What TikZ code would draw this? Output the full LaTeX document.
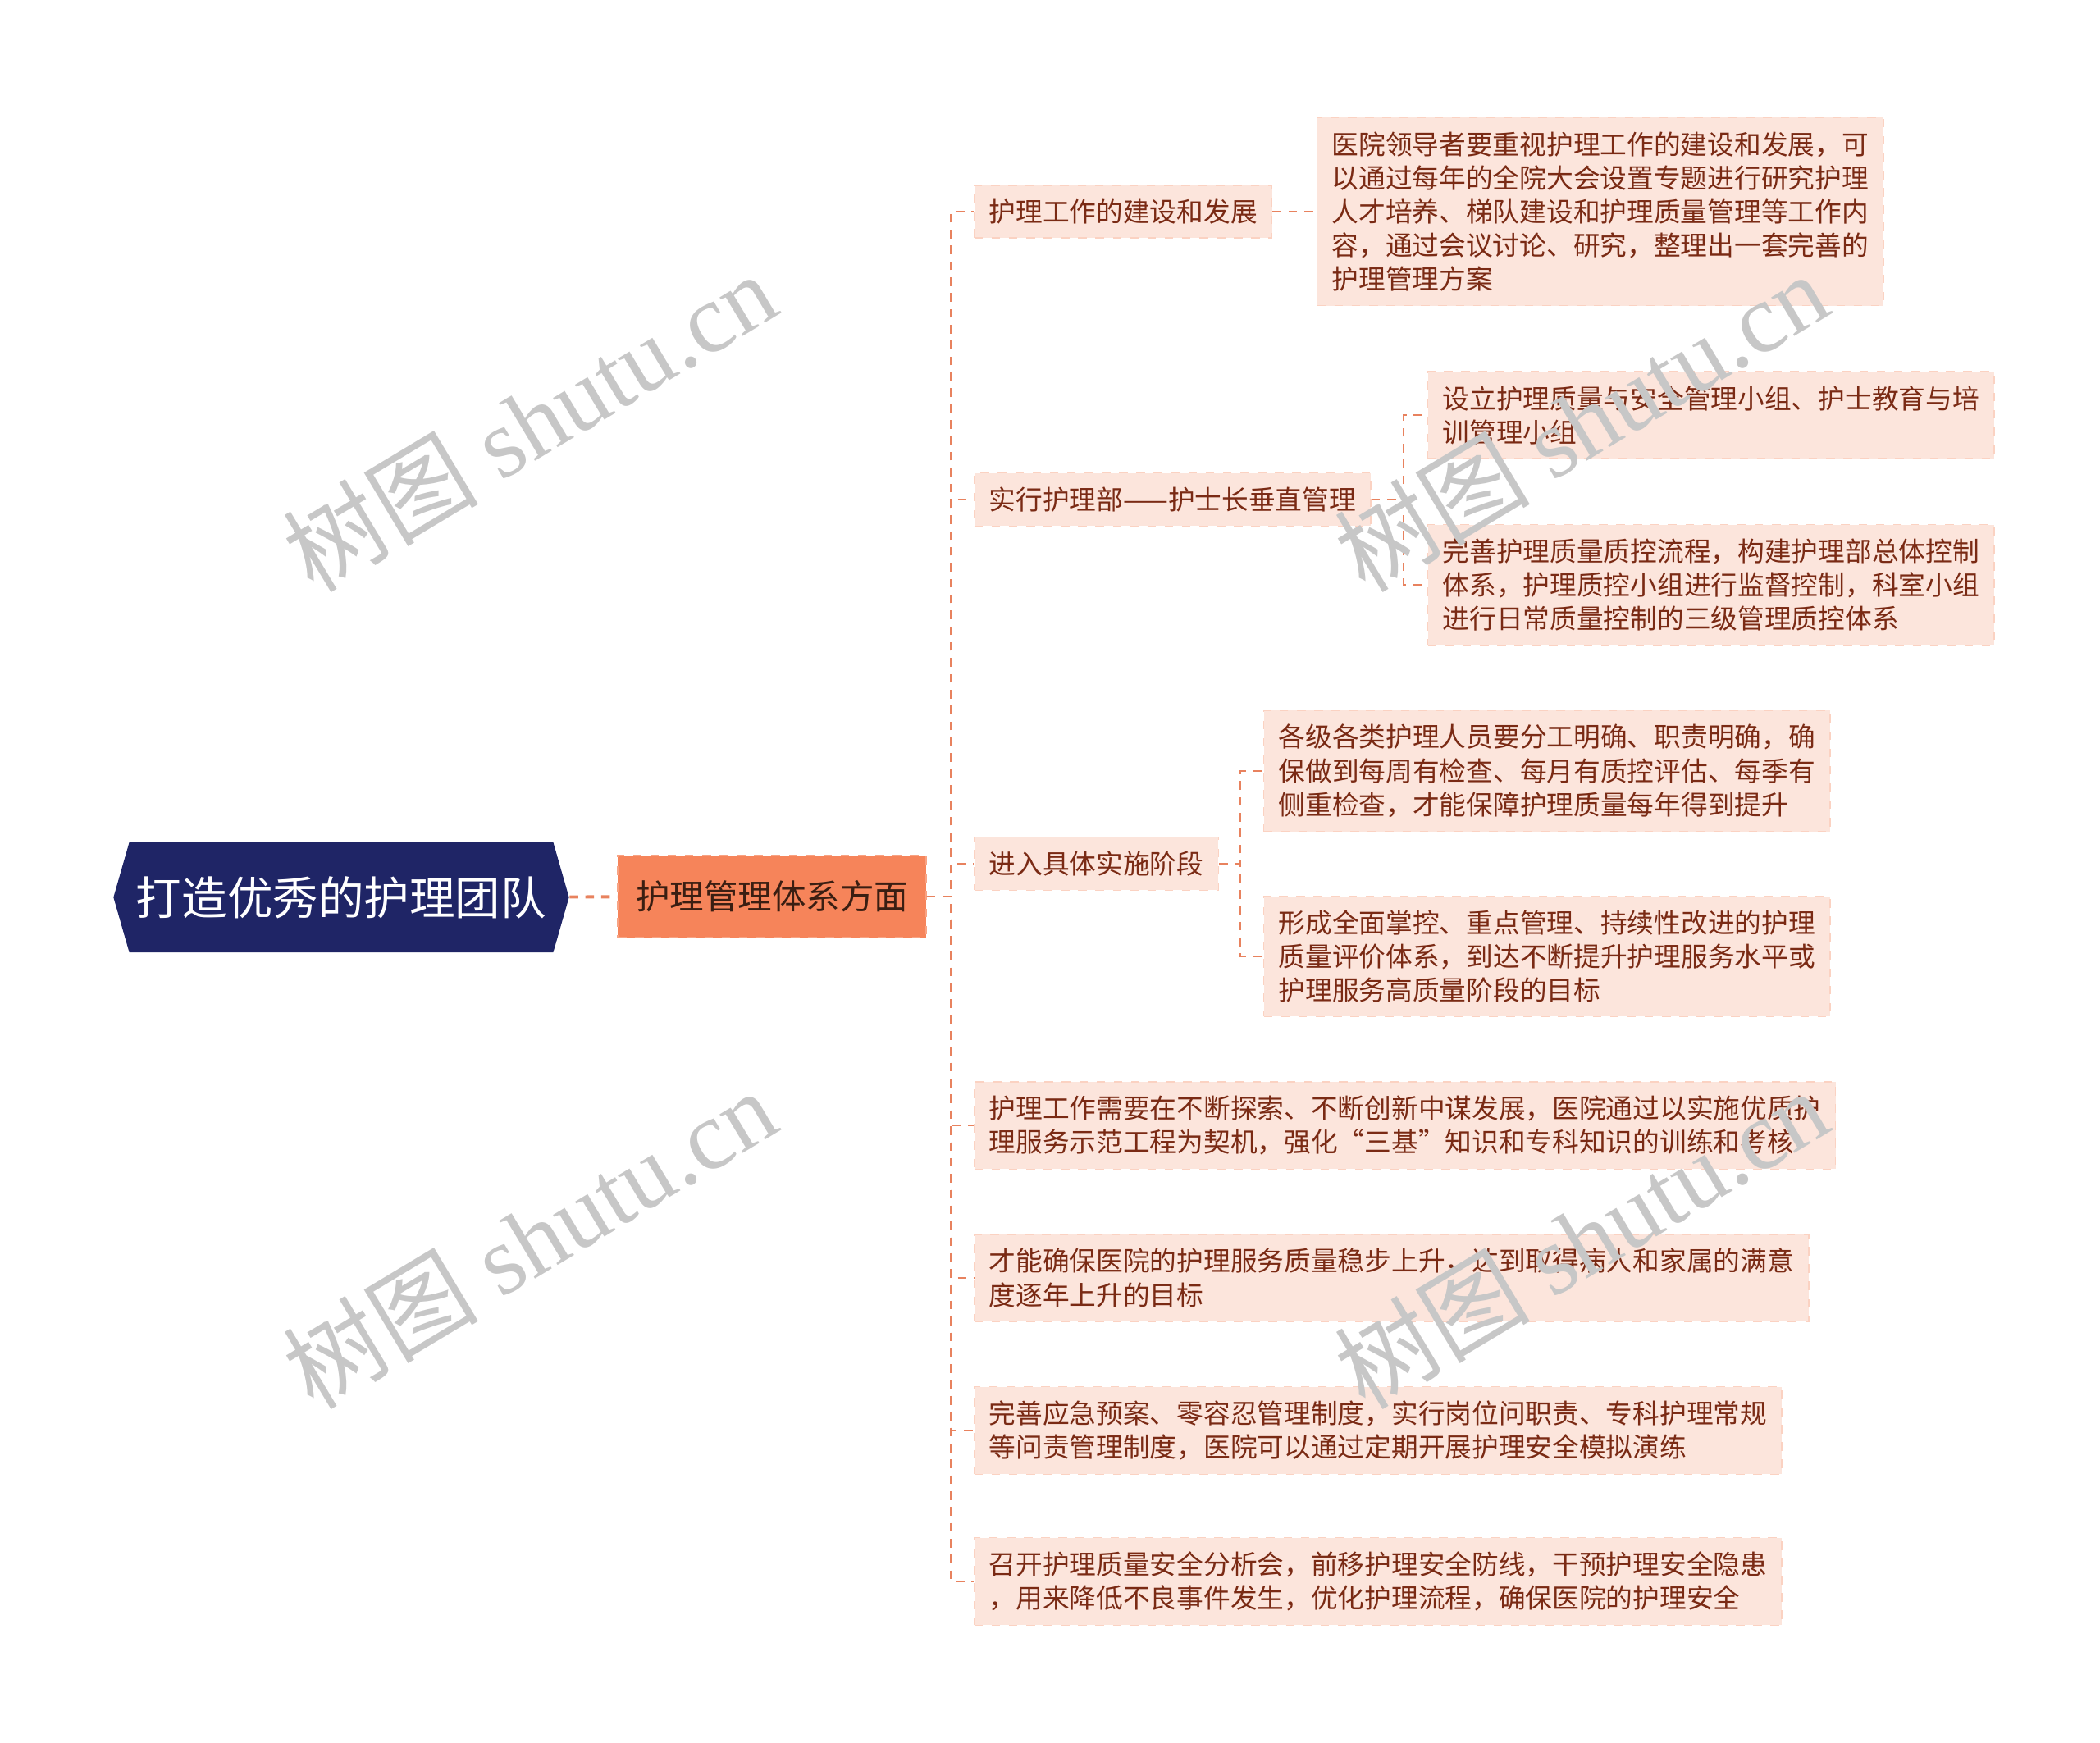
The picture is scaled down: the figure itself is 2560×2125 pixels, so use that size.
\documentclass[tikz,border=0pt]{standalone}
\usepackage{fontspec}
\setmainfont{Noto Sans CJK SC}
\newfontfamily\wmfont{Liberation Serif}
\usetikzlibrary{positioning,shapes.symbols}

\definecolor{navy}{HTML}{1F2566}
\definecolor{coral}{HTML}{F6845A}
\definecolor{peach}{HTML}{FCE5DC}
\definecolor{rust}{HTML}{7A2A14}
\definecolor{topictext}{HTML}{3A1E12}
\definecolor{linkc}{HTML}{E8825E}

\begin{document}
\begin{tikzpicture}[
    x=0.01cm, y=-0.01cm,
    root/.style={signal,signal to=east and west,signal pointer angle=148,
      fill=navy,text=white,minimum width=5.55cm,minimum height=1.34cm,
      inner sep=0pt,font=\fontsize{15.8pt}{19pt}\selectfont},
    topic/.style={rectangle,fill=coral,draw=coral!75!white,dashed,
      text=topictext,inner xsep=0.22cm,minimum height=1.0cm,
      font=\fontsize{11.8pt}{14pt}\selectfont},
    leaf/.style={rectangle,fill=peach,draw=peach!80!coral,dashed,
      text=rust,align=left,anchor=west,inner xsep=0.18cm,inner ysep=0.17cm,
      font=\fontsize{9.3pt}{11.7pt}\selectfont},
    link/.style={draw=linkc,line width=0.7pt,dash pattern=on 3pt off 2.5pt},
    watermark/.style={rotate=31,text=black!22,
      font=\fontsize{34pt}{34pt}\selectfont}
    ]

    \useasboundingbox (0,0) rectangle (2560,2125);

    % root and main branch:
    \node (root) at (416,1094) [root] {打造优秀的护理团队};
    \node (main) at (941,1093) [topic] {护理管理体系方面};

    % second level:
    \node (s1) at (1187,258) [leaf] {护理工作的建设和发展};
    \node (s2) at (1187,609) [leaf] {实行护理部——护士长垂直管理};
    \node (s3) at (1187,1053) [leaf] {进入具体实施阶段};
    \node (s4) at (1187,1372) [leaf] {护理工作需要在不断探索、不断创新中谋发展，医院通过以实施优质护\\理服务示范工程为契机，强化“三基”知识和专科知识的训练和考核};
    \node (s5) at (1187,1558) [leaf] {才能确保医院的护理服务质量稳步上升，达到取得病人和家属的满意\\度逐年上升的目标};
    \node (s6) at (1187,1744) [leaf] {完善应急预案、零容忍管理制度，实行岗位问职责、专科护理常规\\等问责管理制度，医院可以通过定期开展护理安全模拟演练};
    \node (s7) at (1187,1928) [leaf] {召开护理质量安全分析会，前移护理安全防线，干预护理安全隐患\\，用来降低不良事件发生，优化护理流程，确保医院的护理安全};

    % third level:
    \node (t1) at (1605,258) [leaf] {医院领导者要重视护理工作的建设和发展，可\\以通过每年的全院大会设置专题进行研究护理\\人才培养、梯队建设和护理质量管理等工作内\\容，通过会议讨论、研究，整理出一套完善的\\护理管理方案};
    \node (t2) at (1740,506) [leaf] {设立护理质量与安全管理小组、护士教育与培\\训管理小组};
    \node (t3) at (1740,713) [leaf] {完善护理质量质控流程，构建护理部总体控制\\体系，护理质控小组进行监督控制，科室小组\\进行日常质量控制的三级管理质控体系};
    \node (t4) at (1540,940) [leaf] {各级各类护理人员要分工明确、职责明确，确\\保做到每周有检查、每月有质控评估、每季有\\侧重检查，才能保障护理质量每年得到提升};
    \node (t5) at (1540,1166) [leaf] {形成全面掌控、重点管理、持续性改进的护理\\质量评价体系，到达不断提升护理服务水平或\\护理服务高质量阶段的目标};

    % connectors:
    \draw [link,line width=1.1pt] (root) -- (main);

    \coordinate (trunk) at (1159,1093);
    \foreach \n in {1,...,7}
      \draw [link] (main.east) -- (trunk) |- (s\n.west);

    \draw [link] (s1) -- (t1);

    \coordinate (fork2) at (1711,609);
    \foreach \n in {2,3}
      \draw [link] (s2.east) -- (fork2) |- (t\n.west);

    \coordinate (fork3) at (1512,1053);
    \foreach \n in {4,5}
      \draw [link] (s3.east) -- (fork3) |- (t\n.west);

    % watermarks:
    \foreach \wx/\wy [count=\i] in {645/514,645/1510,1927/514,1927/1510}
      \node (wm\i) at (\wx,\wy) [watermark] {树图 {\wmfont shutu.cn}};

  \end{tikzpicture}
\end{document}
